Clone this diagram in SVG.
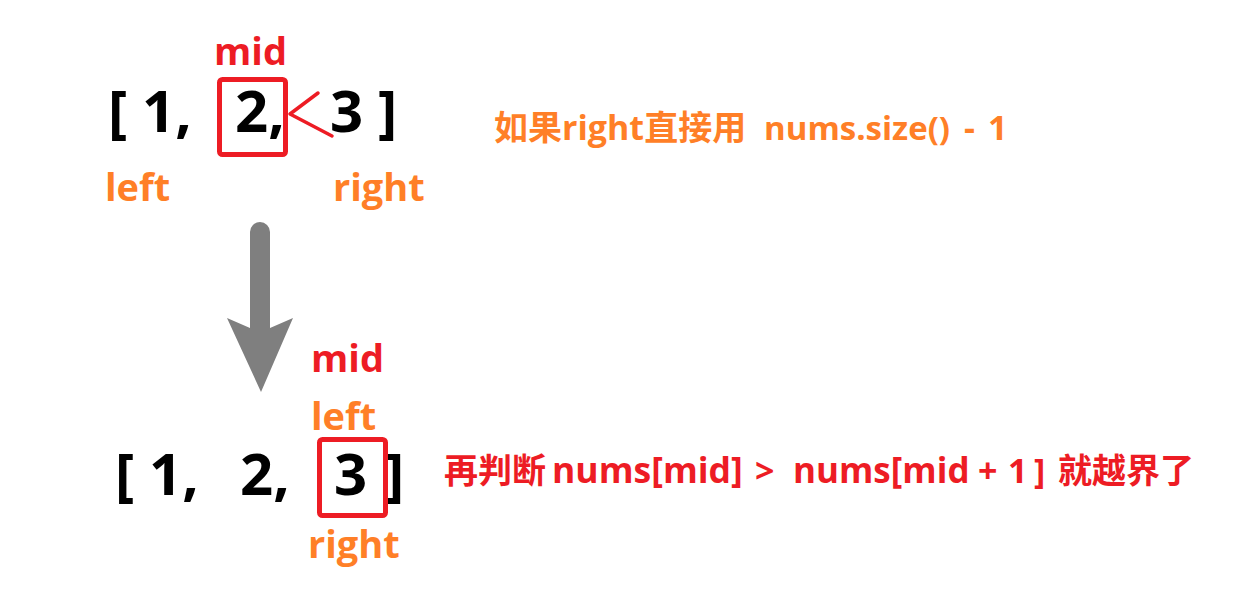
<svg xmlns="http://www.w3.org/2000/svg" width="1240" height="602" viewBox="0 0 1240 602">
<style>
text{font-family:"Open Sans","Noto Sans CJK SC",sans-serif;font-weight:bold}
.num{font-size:58px;fill:#000}
.lbl{font-size:38px}
.note{font-size:34px}
.red{fill:#ED1C24}
.org{fill:#FF7F27}
.box{fill:none;stroke:#ED1C24;stroke-width:5;}
</style>
<rect width="1240" height="602" fill="#fff"/>
<g id="top-array">
<text class="num" x="108" y="132">[</text>
<text class="num" x="142" y="132">1,</text>
<text class="num" x="235" y="132">2,</text>
<text class="num" x="330" y="132">3</text>
<text class="num" x="378" y="132">]</text>
<rect class="box" x="219.5" y="79.5" width="66" height="75" rx="3"/>
</g>
<g id="top-labels">
<text class="lbl red" x="214" y="65">mid</text>
<text class="lbl org" x="105" y="201">left</text>
<text class="lbl org" x="333" y="201">right</text>
</g>
<g id="note-top">
<text class="note org" y="140"><tspan x="494">如果right直接用</tspan><tspan x="764" font-size="33">nums.size()</tspan><tspan x="964">-</tspan><tspan x="988">1</tspan></text>
</g>
<g id="bottom-array">
<text class="num" x="115" y="495">[</text>
<text class="num" x="149" y="495">1,</text>
<text class="num" x="240" y="495">2,</text>
<text class="num" x="334" y="495">3</text>
<text class="num" x="385" y="495">]</text>
<rect class="box" x="319.5" y="439.5" width="66" height="76" rx="3"/>
</g>
<g id="bottom-labels">
<text class="lbl red" x="311" y="372">mid</text>
<text class="lbl org" x="311" y="430">left</text>
<text class="lbl org" x="308" y="558">right</text>
</g>
<g id="note-bottom">
<text class="note red" y="483"><tspan x="444">再判断</tspan><tspan x="552" font-size="35.5">nums[mid]</tspan><tspan x="755">&gt;</tspan><tspan x="793" font-size="35">nums[mid</tspan><tspan x="978">+</tspan><tspan x="1008">1</tspan><tspan x="1034">]</tspan><tspan x="1058">就越界了</tspan></text>
</g>
<g id="connectors">
<path d="M318,93 L290,114 L332,136" fill="none" stroke="#ED1C24" stroke-width="3.5" stroke-linecap="round" stroke-linejoin="round"/>
<path d="M250,232 A10,10 0 0 1 270,232 L270,328 L293,318 L261,392 L227,318 L250,328 Z" fill="#7F7F7F"/>
</g>
</svg>
